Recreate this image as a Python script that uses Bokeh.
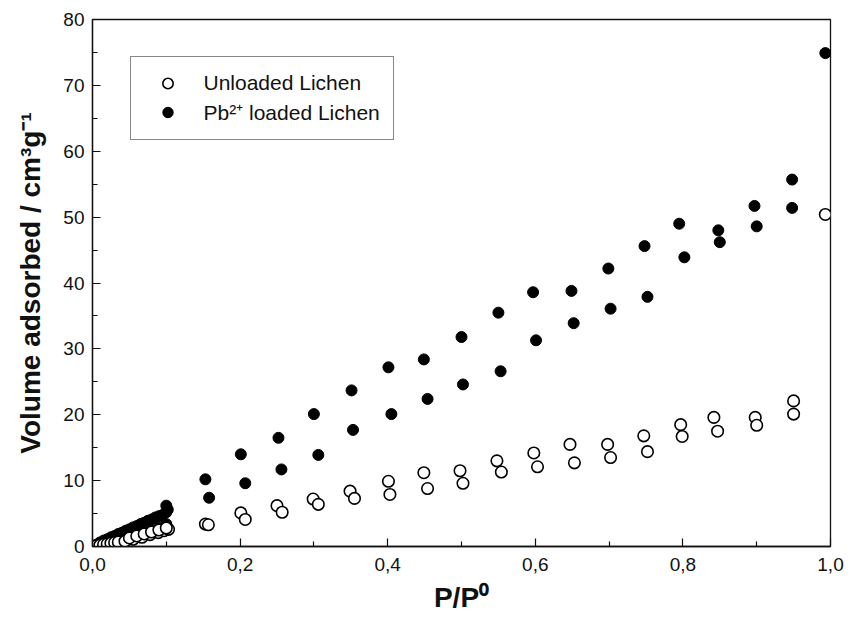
from bokeh.plotting import figure
from bokeh.models import (Range1d, ColumnDataSource, Legend, LegendItem,
                          FixedTicker, CustomJSTickFormatter)
from bokeh.embed import file_html
from bokeh.resources import INLINE

# ---------------- data ----------------
# Pb2+ loaded lichen (filled circles)
pb_x = [0.002, 0.006, 0.010, 0.015, 0.020, 0.025, 0.030, 0.035, 0.040, 0.045,
        0.050, 0.055, 0.060, 0.065, 0.070, 0.075, 0.080, 0.085, 0.090, 0.095,
        0.100, 0.102, 0.100,
        0.004, 0.010, 0.020, 0.030, 0.040, 0.050, 0.060, 0.070, 0.080, 0.090, 0.100,
        0.153, 0.158, 0.201, 0.207, 0.252, 0.256, 0.300, 0.306, 0.351, 0.353,
        0.401, 0.405, 0.449, 0.454, 0.500, 0.502, 0.550, 0.553, 0.597, 0.601,
        0.649, 0.652, 0.699, 0.702, 0.748, 0.752, 0.795, 0.802, 0.848, 0.850,
        0.897, 0.900, 0.948, 0.948, 0.993]
pb_y = [0.1, 0.3, 0.6, 0.9, 1.1, 1.4, 1.6, 1.9, 2.1, 2.4,
        2.6, 2.9, 3.1, 3.4, 3.6, 3.9, 4.1, 4.4, 4.6, 4.8,
        5.2, 5.6, 6.2,
        0.1, 0.3, 0.6, 0.9, 1.2, 1.5, 1.8, 2.1, 2.4, 2.8, 3.4,
        10.2, 7.4, 14.0, 9.6, 16.5, 11.7, 20.1, 13.9, 23.7, 17.7,
        27.2, 20.1, 28.4, 22.4, 31.8, 24.6, 35.5, 26.6, 38.6, 31.3,
        38.8, 33.9, 42.2, 36.1, 45.6, 37.9, 49.0, 43.9, 48.0, 46.2,
        51.7, 48.6, 55.7, 51.4, 74.9]

# Unloaded lichen (open circles)
un_x = [0.005, 0.010, 0.015, 0.020, 0.025, 0.030, 0.035, 0.044, 0.055, 0.067,
        0.078, 0.089, 0.097, 0.103,
        0.050, 0.060, 0.070, 0.080, 0.090, 0.100,
        0.153, 0.157, 0.201, 0.207, 0.250, 0.257, 0.299, 0.306, 0.349, 0.355,
        0.401, 0.403, 0.449, 0.454, 0.498, 0.502, 0.548, 0.554, 0.598, 0.603,
        0.647, 0.653, 0.698, 0.702, 0.747, 0.752, 0.797, 0.799, 0.842, 0.847,
        0.898, 0.900, 0.950, 0.950, 0.993]
un_y = [0.1, 0.2, 0.3, 0.4, 0.5, 0.6, 0.7, 0.8, 1.1, 1.4,
        1.8, 2.1, 2.4, 2.6,
        1.3, 1.6, 1.9, 2.2, 2.5, 2.8,
        3.4, 3.3, 5.1, 4.1, 6.2, 5.2, 7.2, 6.4, 8.4, 7.3,
        9.9, 7.9, 11.2, 8.8, 11.5, 9.6, 13.0, 11.3, 14.2, 12.1,
        15.5, 12.7, 15.5, 13.5, 16.8, 14.4, 18.5, 16.7, 19.6, 17.5,
        19.6, 18.4, 22.1, 20.1, 50.4]

x_ticks = [0.0, 0.2, 0.4, 0.6, 0.8, 1.0]
x_minor = [0.1, 0.3, 0.5, 0.7, 0.9]
y_ticks = [0, 10, 20, 30, 40, 50, 60, 70, 80]
y_minor = [5, 15, 25, 35, 45, 55, 65, 75]

series_names = ["Unloaded Lichen", "Pb\u00b2\u207a loaded Lichen"]
x_label = "P/P\u2070"
y_label = "Volume adsorbed / cm\u00b3g\u207b\u00b9"

FONT = "Liberation Sans"
INK = "#111111"

p = figure(width=851, height=618, output_backend="svg", toolbar_location=None,
           x_range=Range1d(0, 1), y_range=Range1d(0, 80),
           min_border_left=92, min_border_right=21, min_border_top=19,
           min_border_bottom=72)
p.grid.visible = False
p.background_fill_color = "white"
p.border_fill_color = "white"
p.outline_line_color = INK
p.outline_line_width = 1.3

p.xaxis.ticker = FixedTicker(ticks=x_ticks, minor_ticks=x_minor)
p.yaxis.ticker = FixedTicker(ticks=y_ticks, minor_ticks=y_minor)
p.xaxis.formatter = CustomJSTickFormatter(code="return tick.toFixed(1).replace('.', ',');")

for ax in (p.xaxis[0], p.yaxis[0]):
    ax.axis_line_color = INK
    ax.axis_line_width = 1.3
    ax.major_tick_in = 8
    ax.major_tick_out = 0
    ax.minor_tick_in = 5
    ax.minor_tick_out = 0
    ax.major_tick_line_color = INK
    ax.minor_tick_line_color = INK
    ax.major_tick_line_width = 1.2
    ax.minor_tick_line_width = 1.2
    ax.major_label_text_font = FONT
    ax.major_label_text_font_size = "19px"
    ax.major_label_text_color = INK
    ax.axis_label_text_font = FONT
    ax.axis_label_text_font_size = "28px"
    ax.axis_label_text_font_style = "bold"
    ax.axis_label_text_color = INK

p.xaxis.axis_label = x_label
p.yaxis.axis_label = y_label
p.xaxis.major_label_standoff = 11
p.yaxis.major_label_standoff = 8
p.xaxis.axis_label_standoff = 8
p.yaxis.axis_label_standoff = 14

src_pb = ColumnDataSource(dict(x=pb_x, y=pb_y))
src_un = ColumnDataSource(dict(x=un_x, y=un_y))

r_pb = p.scatter("x", "y", source=src_pb, marker="circle", size=11,
                 fill_color="black", line_color="black", line_width=1)
r_un = p.scatter("x", "y", source=src_un, marker="circle", size=11.5,
                 fill_color="white", line_color="black", line_width=1.6)

legend = Legend(items=[LegendItem(label=series_names[0], renderers=[r_un]),
                       LegendItem(label=series_names[1], renderers=[r_pb])],
                location=(37.5, 406.5))
legend.label_text_font = FONT
legend.label_text_font_size = "21px"
legend.label_text_color = INK
legend.border_line_color = INK
legend.border_line_width = 1.3
legend.background_fill_color = "white"
legend.background_fill_alpha = 1
legend.padding = 13
legend.margin = 0
legend.spacing = 2
legend.glyph_width = 47
legend.glyph_height = 26
legend.label_height = 26
legend.label_standoff = 13
p.add_layout(legend, "center")

open("out.html", "w").write(file_html(p, INLINE))
